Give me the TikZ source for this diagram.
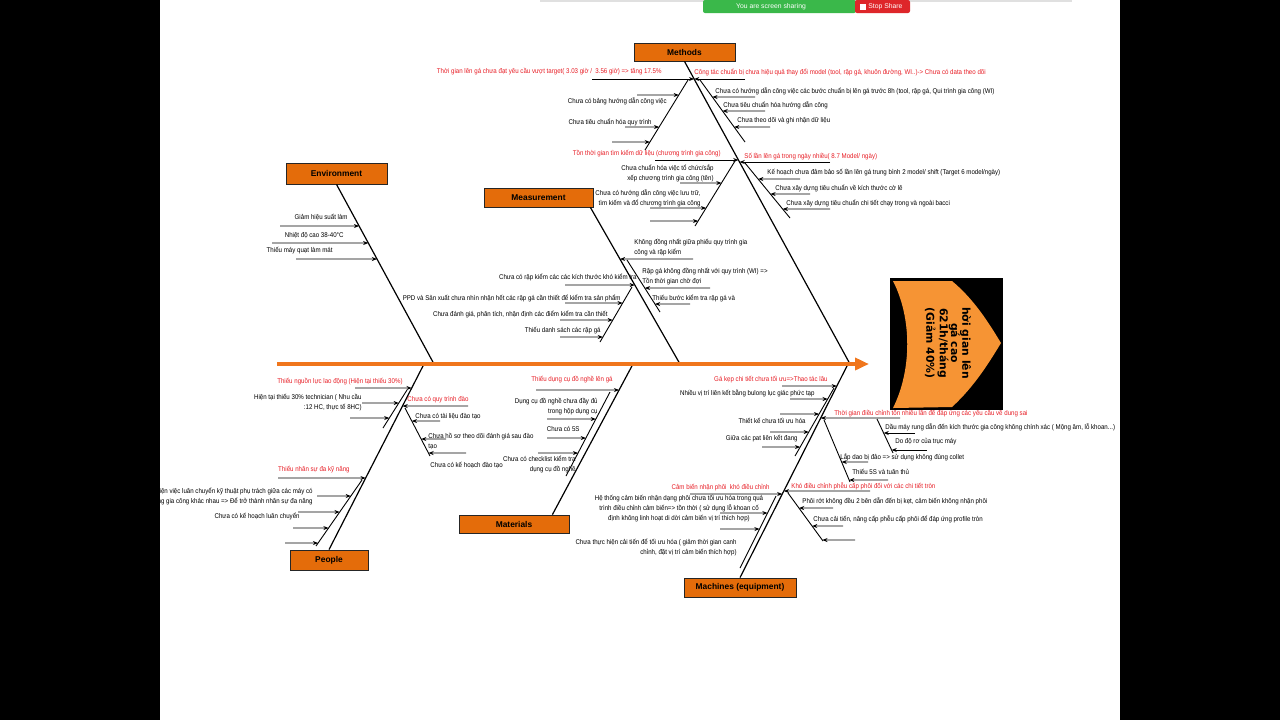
\documentclass[tikz,border=0pt]{standalone}
\usepackage{fontspec}
\setmainfont{Liberation Sans}
\newfontfamily\narrowsans[FakeStretch=0.89]{Liberation Sans}
\newfontfamily\headfont{DejaVu Sans}
\usetikzlibrary{arrows.meta}
\definecolor{boxor}{RGB}{228,108,10}
\definecolor{spineor}{RGB}{240,118,28}
\definecolor{heador}{RGB}{246,148,52}
\definecolor{redtxt}{RGB}{232,30,38}
\definecolor{sharegreen}{RGB}{58,184,74}
\definecolor{sharered}{RGB}{222,38,42}
\newcommand{\bpt}[3]{\coordinate (#1) at (intersection of #2 and 0,#3--1200,#3);}
\tikzset{
  bone/.style={draw=black, line width=0.6pt},
  subl/.style={draw=black, line width=0.45pt},
  arr/.style={subl, -{Stealth[length=2.6pt,width=2pt]}},
  txt/.style={inner sep=0pt, font=\narrowsans\fontsize{3.45}{5}\selectfont, text=black},
  rtxt/.style={inner sep=0pt, font=\narrowsans\fontsize{3.45}{5}\selectfont, text=redtxt},
  catbox/.style={draw=black!85, line width=0.4pt, fill=boxor, inner sep=0pt, font=\fontsize{4.2}{5}\selectfont\bfseries},
  headtxt/.style={inner sep=0pt, font=\headfont\bfseries\fontsize{5.4}{5.6}\selectfont, align=center}
}
\begin{document}
\begin{tikzpicture}[x=0.5pt,y=-0.5pt]
\useasboundingbox (0,0) rectangle (1280,720);
\fill[white] (0,0) rectangle (1280,720);

% ---------------- Methods ----------------
\node[catbox, minimum width=50.5pt, minimum height=9pt] (meth) at (684.5,52) {Methods};
\coordinate (MA) at (meth.south); \coordinate (MB) at (850,364);
\draw[bone] (meth.south) -- (MB);
% M1
\node[rtxt, anchor=east] (m1) at (662,72) {Thời gian lên gá chưa đạt yêu cầu vượt target( 3.03 giờ / \ 3.56 giờ) => tăng 17.5\%};
\coordinate (m1s) at (592,79); \bpt{m1e}{MA--MB}{79}; \draw[arr] (m1s) -- (m1e);
\coordinate (s1a) at (688,80); \coordinate (s1b) at (645,150); \draw[subl] (s1a) -- (s1b);
\node[txt, anchor=east] (m1a) at (667,101) {Chưa có bảng hướng dẫn công việc};
\node[txt, anchor=east] (m1b) at (652,122) {Chưa tiêu chuẩn hóa quy trình};
\coordinate (l1s) at (637,95); \bpt{l1e}{s1a--s1b}{95}; \draw[arr] (l1s) -- (l1e);
\coordinate (l2s) at (625,127); \bpt{l2e}{s1a--s1b}{127}; \draw[arr] (l2s) -- (l2e);
\coordinate (l3s) at (612,142); \bpt{l3e}{s1a--s1b}{142}; \draw[arr] (l3s) -- (l3e);
% M2
\node[rtxt, anchor=west] (m2) at (694,72) {Công tác chuẩn bị chưa hiệu quả thay đổi model (tool, rập gá, khuôn đường, WI..)-> Chưa có data theo dõi};
\coordinate (m2s) at (745,79); \draw[arr] (m2s) -- (m1e);
\coordinate (s2a) at (700,80); \coordinate (s2b) at (745,142); \draw[subl] (s2a) -- (s2b);
\node[txt, anchor=west] (m2a) at (715,91) {Chưa có hướng dẫn công việc các bước chuẩn bị lên gá trước 8h (tool, rập gá, Qui trình gia công (WI)};
\node[txt, anchor=west] (m2b) at (723,105) {Chưa tiêu chuẩn hóa hướng dẫn công};
\node[txt, anchor=west] (m2c) at (737,121) {Chưa theo dõi và ghi nhận dữ liệu};
\coordinate (l4s) at (755,97); \bpt{l4e}{s2a--s2b}{97}; \draw[arr] (l4s) -- (l4e);
\coordinate (l5s) at (765,111); \bpt{l5e}{s2a--s2b}{111}; \draw[arr] (l5s) -- (l5e);
\coordinate (l6s) at (770,127); \bpt{l6e}{s2a--s2b}{127}; \draw[arr] (l6s) -- (l6e);
% M3
\node[rtxt, anchor=east] (m3) at (721,154) {Tồn thời gian tìm kiếm dữ liệu (chương trình gia công)};
\coordinate (m3s) at (655,160); \bpt{m3e}{MA--MB}{160}; \draw[arr] (m3s) -- (m3e);
\coordinate (s3a) at (735,161); \coordinate (s3b) at (695,226); \draw[subl] (s3a) -- (s3b);
\node[txt, anchor=east, align=right] (m3a) at (714,173) {Chưa chuẩn hóa việc tổ chức/sắp\\xếp chương trình gia công (tên)};
\node[txt, anchor=east, align=right] (m3b) at (701,198) {Chưa có hướng dẫn công việc lưu trữ,\\tìm kiếm và đổ chương trình gia công};
\coordinate (l7s) at (680,183); \bpt{l7e}{s3a--s3b}{183}; \draw[arr] (l7s) -- (l7e);
\coordinate (l8s) at (650,208); \bpt{l8e}{s3a--s3b}{208}; \draw[arr] (l8s) -- (l8e);
\coordinate (l9s) at (650,221); \bpt{l9e}{s3a--s3b}{221}; \draw[arr] (l9s) -- (l9e);
% M4
\node[rtxt, anchor=west] (m4) at (744,157) {Số lần lên gá trong ngày nhiều( 8.7 Model/ ngày)};
\coordinate (m4s) at (830,162); \bpt{m4e}{MA--MB}{162}; \draw[arr] (m4s) -- (m4e);
\coordinate (s4a) at (745,163); \coordinate (s4b) at (790,218); \draw[subl] (s4a) -- (s4b);
\node[txt, anchor=west] (m4a) at (767,173) {Kế hoạch chưa đảm bảo số lần lên gá trung bình 2 model/ shift (Target 6 model/ngày)};
\node[txt, anchor=west] (m4b) at (775,188) {Chưa xây dựng tiêu chuẩn về kích thước cờ lê};
\node[txt, anchor=west] (m4c) at (786,203) {Chưa xây dựng tiêu chuẩn chi tiết chạy trong và ngoài bacci};
\coordinate (l10s) at (800,179); \bpt{l10e}{s4a--s4b}{179}; \draw[arr] (l10s) -- (l10e);
\coordinate (l11s) at (810,194); \bpt{l11e}{s4a--s4b}{194}; \draw[arr] (l11s) -- (l11e);
\coordinate (l12s) at (830,209); \bpt{l12e}{s4a--s4b}{209}; \draw[arr] (l12s) -- (l12e);

% ---------------- Environment ----------------
\node[catbox, minimum width=50.5pt, minimum height=10.5pt] (env) at (336.5,173.5) {Environment};
\coordinate (EA) at (env.south); \coordinate (EB) at (434,364);
\draw[bone] (env.south) -- (EB);
\node[txt, anchor=east] (e1) at (348,217) {Giảm hiệu suất làm};
\node[txt, anchor=east] (e2) at (344,235) {Nhiệt độ cao 38-40°C};
\node[txt, anchor=east] (e3) at (333,251) {Thiếu máy quạt làm mát};
\coordinate (le1s) at (280,226); \bpt{le1e}{EA--EB}{226}; \draw[arr] (le1s) -- (le1e);
\coordinate (le2s) at (272,243); \bpt{le2e}{EA--EB}{243}; \draw[arr] (le2s) -- (le2e);
\coordinate (le3s) at (296,259); \bpt{le3e}{EA--EB}{259}; \draw[arr] (le3s) -- (le3e);

% ---------------- Measurement ----------------
\node[catbox, minimum width=54.5pt, minimum height=9.5pt] (meas) at (538.5,197.5) {Measurement};
\coordinate (SA) at ([xshift=-1.5pt]meas.south east); \coordinate (SB) at (680,364);
\draw[bone] (SA) -- (SB);
\node[txt, anchor=east] (q1) at (637,277) {Chưa có rập kiểm các các kích thước khó kiểm tra};
\coordinate (lq1s) at (565,285); \bpt{lq1e}{SA--SB}{285}; \draw[arr] (lq1s) -- (lq1e);
\coordinate (s5a) at (632,287); \coordinate (s5b) at (600,342); \draw[subl] (s5a) -- (s5b);
\node[txt, anchor=east] (q1a) at (621,298) {PPD và Sản xuất chưa nhìn nhận hết các rập gá cần thiết để kiểm tra sản phẩm};
\node[txt, anchor=east] (q1b) at (608,314) {Chưa đánh giá, phân tích, nhận định các điểm kiểm tra cần thiết};
\node[txt, anchor=east] (q1c) at (601,331) {Thiếu danh sách các rập gá};
\coordinate (lq2s) at (565,303); \bpt{lq2e}{s5a--s5b}{303}; \draw[arr] (lq2s) -- (lq2e);
\coordinate (lq3s) at (560,320); \bpt{lq3e}{s5a--s5b}{320}; \draw[arr] (lq3s) -- (lq3e);
\coordinate (lq4s) at (560,337); \bpt{lq4e}{s5a--s5b}{337}; \draw[arr] (lq4s) -- (lq4e);
\node[txt, anchor=west, align=left] (q2) at (634,248) {Không đồng nhất giữa phiếu quy trình gia\\công và rập kiểm};
\coordinate (lq5s) at (693,259); \bpt{lq5e}{SA--SB}{259}; \draw[arr] (lq5s) -- (lq5e);
\coordinate (s6a) at (627,260); \coordinate (s6b) at (660,312); \draw[subl] (s6a) -- (s6b);
\node[txt, anchor=west, align=left] (q2a) at (642,277) {Rập gá không đồng nhất với quy trình (WI) =>\\Tồn thời gian chờ đợi};
\node[txt, anchor=west] (q2b) at (652,298) {Thiếu bước kiểm tra rập gá và};
\coordinate (lq6s) at (710,288); \bpt{lq6e}{s6a--s6b}{288}; \draw[arr] (lq6s) -- (lq6e);
\coordinate (lq7s) at (690,304); \bpt{lq7e}{s6a--s6b}{304}; \draw[arr] (lq7s) -- (lq7e);

% ---------------- People ----------------
\node[catbox, minimum width=39pt, minimum height=10pt] (peo) at (329,560) {People};
\coordinate (PA) at (peo.north); \coordinate (PB) at (424,364);
\draw[bone] (peo.north) -- (PB);
\node[rtxt, anchor=east] (p1) at (403,382) {Thiếu nguồn lực lao động (Hiện tại thiếu 30\%)};
\coordinate (lp1s) at (355,388); \bpt{lp1e}{PA--PB}{388}; \draw[arr] (lp1s) -- (lp1e);
\coordinate (s7a) at (407,390); \coordinate (s7b) at (383,428); \draw[subl] (s7a) -- (s7b);
\node[txt, anchor=east, align=right] (p1a) at (362,402.5) {Hiện tại thiếu 30\% technician ( Nhu cầu\\:12 HC, thực tế 8HC)};
\coordinate (lp2s) at (362,403); \bpt{lp2e}{s7a--s7b}{403}; \draw[arr] (lp2s) -- (lp2e);
\coordinate (lp3s) at (350,418); \bpt{lp3e}{s7a--s7b}{418}; \draw[arr] (lp3s) -- (lp3e);
\node[rtxt, anchor=east] (p2) at (350,470) {Thiếu nhân sự đa kỹ năng};
\coordinate (lp4s) at (278,478); \bpt{lp4e}{PA--PB}{478}; \draw[arr] (lp4s) -- (lp4e);
\coordinate (s8a) at (362,480); \coordinate (s8b) at (316,546); \draw[subl] (s8a) -- (s8b);
\node[txt, anchor=east, align=right] (p2a) at (313,496) {iện việc luân chuyển kỹ thuật phụ trách giữa các máy có\\ng gia công khác nhau => Để trở thành nhân sự đa năng};
\node[txt, anchor=east] (p2b) at (300,516) {Chưa có kế hoạch luân chuyển};
\coordinate (lp5s) at (317,496); \bpt{lp5e}{s8a--s8b}{496}; \draw[arr] (lp5s) -- (lp5e);
\coordinate (lp6s) at (298,512); \bpt{lp6e}{s8a--s8b}{512}; \draw[arr] (lp6s) -- (lp6e);
\coordinate (lp7s) at (293,528); \bpt{lp7e}{s8a--s8b}{528}; \draw[arr] (lp7s) -- (lp7e);
\coordinate (lp8s) at (285,543); \bpt{lp8e}{s8a--s8b}{543}; \draw[arr] (lp8s) -- (lp8e);
\node[rtxt, anchor=west] (p3) at (407,400) {Chưa có quy trình đào};
\coordinate (lp9s) at (468,406); \bpt{lp9e}{PA--PB}{406}; \draw[arr] (lp9s) -- (lp9e);
\coordinate (s9a) at (405,408); \coordinate (s9b) at (430,456); \draw[subl] (s9a) -- (s9b);
\node[txt, anchor=west] (p3a) at (415,416) {Chưa có tài liệu đào tạo};
\node[txt, anchor=west, align=left] (p3b) at (428,441) {Chưa hồ sơ theo dõi đánh giá sau đào\\tạo};
\node[txt, anchor=west] (p3c) at (430,465) {Chưa có kế hoạch đào tạo};
\coordinate (lp10s) at (440,421); \bpt{lp10e}{s9a--s9b}{421}; \draw[arr] (lp10s) -- (lp10e);
\coordinate (lp11s) at (446,439); \bpt{lp11e}{s9a--s9b}{439}; \draw[arr] (lp11s) -- (lp11e);
\coordinate (lp12s) at (466,453); \bpt{lp12e}{s9a--s9b}{453}; \draw[arr] (lp12s) -- (lp12e);

% ---------------- Materials ----------------
\node[catbox, minimum width=55pt, minimum height=9pt] (mat) at (514,524) {Materials};
\coordinate (TA) at ([xshift=-8.5pt]mat.north east); \coordinate (TB) at (633,364);
\draw[bone] (TA) -- (TB);
\node[rtxt, anchor=east] (t1) at (613,380) {Thiếu dụng cụ đồ nghề lên gá};
\coordinate (lt1s) at (536,390); \bpt{lt1e}{TA--TB}{390}; \draw[arr] (lt1s) -- (lt1e);
\coordinate (s10a) at (610,392); \coordinate (s10b) at (566,476); \draw[subl] (s10a) -- (s10b);
\node[txt, anchor=east, align=right] (t1a) at (598,407) {Dụng cụ đồ nghề chưa đầy đủ\\trong hộp dụng cụ};
\node[txt, anchor=east] (t1b) at (580,429) {Chưa có 5S};
\node[txt, anchor=east, align=right] (t1c) at (576,464) {Chưa có checklist kiểm tra\\dụng cụ đồ nghề};
\coordinate (lt2s) at (547,419); \bpt{lt2e}{s10a--s10b}{419}; \draw[arr] (lt2s) -- (lt2e);
\coordinate (lt3s) at (547,438); \bpt{lt3e}{s10a--s10b}{438}; \draw[arr] (lt3s) -- (lt3e);
\coordinate (lt4s) at (538,453); \bpt{lt4e}{s10a--s10b}{453}; \draw[arr] (lt4s) -- (lt4e);

% ---------------- Machines ----------------
\node[catbox, minimum width=56pt, minimum height=9.5pt] (mach) at (740,587.5) {Machines (equipment)};
\coordinate (KA) at (mach.north); \coordinate (KB) at (848,364);
\draw[bone] (mach.north) -- (KB);
\node[rtxt, anchor=east] (k1) at (828,380) {Gá kẹp chi tiết chưa tối ưu=>Thao tác lâu};
\coordinate (lk1s) at (782,386); \bpt{lk1e}{KA--KB}{386}; \draw[arr] (lk1s) -- (lk1e);
\coordinate (s11a) at (834,388); \coordinate (s11b) at (795,456); \draw[subl] (s11a) -- (s11b);
\node[txt, anchor=east] (k1a) at (815,393) {Nhiều vị trí liên kết bằng bulong lục giác phức tạp};
\node[txt, anchor=east] (k1b) at (806,421) {Thiết kế chưa tối ưu hóa};
\node[txt, anchor=east] (k1c) at (798,439) {Giữa các pat liên kết đang};
\coordinate (lk2s) at (790,399); \bpt{lk2e}{s11a--s11b}{399}; \draw[arr] (lk2s) -- (lk2e);
\coordinate (lk3s) at (780,414); \bpt{lk3e}{s11a--s11b}{414}; \draw[arr] (lk3s) -- (lk3e);
\coordinate (lk4s) at (770,432); \bpt{lk4e}{s11a--s11b}{432}; \draw[arr] (lk4s) -- (lk4e);
\coordinate (lk5s) at (762,447); \bpt{lk5e}{s11a--s11b}{447}; \draw[arr] (lk5s) -- (lk5e);
\node[rtxt, anchor=east] (k2) at (770,488) {Cảm biến nhận phôi \ khó điều chỉnh};
\coordinate (lk6s) at (690,494); \bpt{lk6e}{KA--KB}{494}; \draw[arr] (lk6s) -- (lk6e);
\coordinate (s12a) at (776,496); \coordinate (s12b) at (740,568); \draw[subl] (s12a) -- (s12b);
\node[txt, align=center] (k2a) at (679,509) {Hệ thống cảm biến nhận dạng phôi chưa tối ưu hóa trong quá\\trình điều chỉnh cảm biến=> tồn thời ( sử dụng lỗ khoan cố\\định không linh hoạt di dời cảm biến vị trí thích hợp)};
\node[txt, anchor=east, align=right] (k2b) at (737,547) {Chưa thực hiện cải tiến để tối ưu hóa ( giảm thời gian canh\\chỉnh, đặt vị trí cảm biến thích hợp)};
\coordinate (lk7s) at (720,513); \bpt{lk7e}{s12a--s12b}{513}; \draw[arr] (lk7s) -- (lk7e);
\coordinate (lk8s) at (720,529); \bpt{lk8e}{s12a--s12b}{529}; \draw[arr] (lk8s) -- (lk8e);
\node[rtxt, anchor=west] (k3) at (834,413) {Thời gian điều chỉnh tốn nhiều lần để đáp ứng các yêu cầu về dung sai};
\coordinate (lk9s) at (900,418); \bpt{lk9e}{KA--KB}{418}; \draw[arr] (lk9s) -- (lk9e);
\coordinate (s13a) at (824,420); \coordinate (s13b) at (850,482); \draw[subl] (s13a) -- (s13b);
\node[txt, anchor=west] (k3a) at (840,457) {Lắp dao bị đảo => sử dụng không đúng collet};
\node[txt, anchor=west] (k3b) at (852,472) {Thiếu 5S và tuân thủ};
\coordinate (lk10s) at (868,462); \bpt{lk10e}{s13a--s13b}{462}; \draw[arr] (lk10s) -- (lk10e);
\coordinate (lk11s) at (888,480); \bpt{lk11e}{s13a--s13b}{480}; \draw[arr] (lk11s) -- (lk11e);
\coordinate (s14a) at (877,419); \coordinate (s14b) at (893,453); \draw[subl] (s14a) -- (s14b);
\node[txt, anchor=west] (k3c) at (885,427) {Dầu máy rung dẫn đến kích thước gia công không chính xác ( Mộng âm, lỗ khoan...)};
\node[txt, anchor=west] (k3d) at (895,442) {Do độ rơ của trục máy};
\coordinate (lk12s) at (915,433); \bpt{lk12e}{s14a--s14b}{433}; \draw[arr] (lk12s) -- (lk12e);
\coordinate (lk13s) at (927,450); \bpt{lk13e}{s14a--s14b}{450}; \draw[arr] (lk13s) -- (lk13e);
\node[rtxt, anchor=west] (k4) at (791,486) {Khó điều chỉnh phễu cấp phôi đối với các chi tiết tròn};
\coordinate (lk14s) at (870,491); \bpt{lk14e}{KA--KB}{491}; \draw[arr] (lk14s) -- (lk14e);
\coordinate (s15a) at (788,493); \coordinate (s15b) at (823,541); \draw[subl] (s15a) -- (s15b);
\node[txt, anchor=west] (k4a) at (802,501) {Phôi rớt không đều 2 bên dẫn đến bị kẹt, cảm biến không nhận phôi};
\node[txt, anchor=west] (k4b) at (813,519) {Chưa cải tiến, nâng cấp phễu cấp phôi để đáp ứng profile tròn};
\coordinate (lk15s) at (833,508); \bpt{lk15e}{s15a--s15b}{508}; \draw[arr] (lk15s) -- (lk15e);
\coordinate (lk16s) at (843,526); \bpt{lk16e}{s15a--s15b}{526}; \draw[arr] (lk16s) -- (lk16e);
\coordinate (lk17s) at (855,540); \bpt{lk17e}{s15a--s15b}{540}; \draw[arr] (lk17s) -- (lk17e);

% ---------------- Spine and head ----------------
\coordinate (SL) at (277,364); \coordinate (SR) at (869,364);
\draw[spineor, line width=2.2pt, -{Triangle[length=7pt,width=6pt]}] (SL) -- (SR);
\fill[black] (890,278) rectangle (1003,410);
\fill[heador] (893,281) -- (952,281) .. controls (975,300) and (990,325) .. (1001,343)
  .. controls (990,361) and (975,386) .. (952,407) -- (893,408)
  .. controls (912,370) and (912,318) .. (893,281);
\node[headtxt, rotate=-90] (head) at (948,343) {hời gian lên\\gá cao\\621h/tháng\\(Giảm 40\%)};

% ---------------- frame: black side bars and sharing bar ----------------
\fill[black] (0,0) rectangle (160,720);
\fill[black] (1120,0) rectangle (1280,720);
\fill[black!12] (540,0) rectangle (1072,2);
\fill[sharegreen, rounded corners=1pt] (703,0) rectangle (856,13);
\fill[sharered, rounded corners=1pt] (855,0) rectangle (910,13);
\node[inner sep=0pt, text=white, font=\fontsize{3.4}{4}\selectfont] (sharetxt) at (771,6.5) {You are screen sharing};
\fill[white] (860,3.5) rectangle (866,9.5);
\node[inner sep=0pt, text=white, font=\fontsize{3.4}{4}\selectfont, anchor=west] (stoptxt) at (868,6.5) {Stop Share};
\end{tikzpicture}
\end{document}
